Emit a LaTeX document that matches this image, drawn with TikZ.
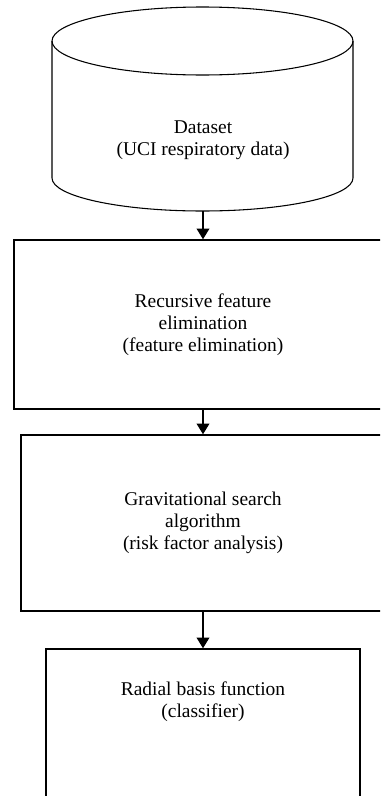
\documentclass[tikz,border=0pt]{standalone}
\usepackage{fontspec}
\setmainfont{Liberation Serif}
\usetikzlibrary{arrows.meta}
\begin{document}
\begin{tikzpicture}[x=0.75pt, y=-0.75pt, >={Triangle[width=9.5pt,length=8pt]},
  box/.style={draw, line width=1.1pt, align=center, inner sep=0pt,
    font=\fontsize{14.6}{16.4}\selectfont},
  cyl/.style={draw, line width=0.8pt}]
  \useasboundingbox (0,0) rectangle (380,796);
  \clip (0,0) rectangle (380,796);
  % dataset drum
  \draw[cyl] (52,41) arc[start angle=180, end angle=-180, x radius=150.5, y radius=34];
  \draw[cyl] (52,41) -- (52,178) arc[start angle=180, end angle=0, x radius=150.5, y radius=33] -- (353,41);
  \node[align=center, font=\fontsize{14.6}{16.4}\selectfont] (data) at (203,140) {Dataset\\(UCI respiratory data)};
  \coordinate (drumbot) at (203,211);
  % steps
  \node[box, minimum width=378*0.75pt, minimum height=169*0.75pt] (rfe) at (203,324.5)
    {Recursive feature\\elimination\\(feature elimination)};
  \node[box, minimum width=364*0.75pt, minimum height=176*0.75pt] (gsa) at (203,523)
    {Gravitational search\\algorithm\\(risk factor analysis)};
  \node[box, minimum width=314*0.75pt, minimum height=150*0.75pt] (rbf) at (203,724)
    {Radial basis function\\(classifier)\\[20pt]};
  \draw[->, line width=1.1pt] (drumbot) -- (rfe.north);
  \draw[->, line width=1.1pt] (rfe.south) -- (gsa.north);
  \draw[->, line width=1.1pt] (gsa.south) -- (rbf.north);
\end{tikzpicture}
\end{document}
